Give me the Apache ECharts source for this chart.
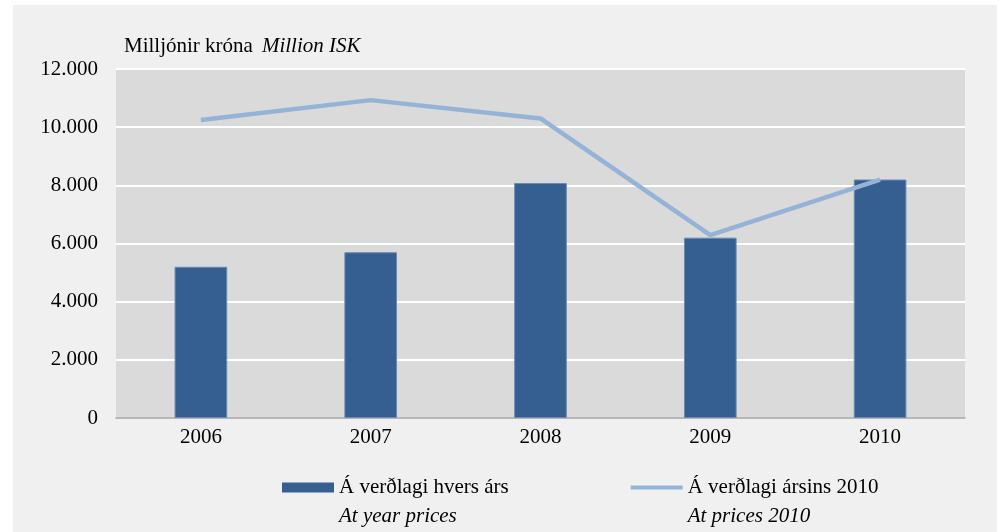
<!DOCTYPE html>
<html>
<head>
<meta charset="utf-8">
<script src="https://cdn.jsdelivr.net/npm/echarts@6/dist/echarts.min.js"></script>
<style>html,body{margin:0;padding:0;background:#fff}#c{width:1002px;height:532px}</style>
</head>
<body>
<div id="c"></div>
<script>
var categories = ['2006', '2007', '2008', '2009', '2010'];
var yearPrices = [5200, 5700, 8080, 6200, 8200];
var prices2010 = [10250, 10930, 10300, 6290, 8200];
var yTicks = ['0', '2.000', '4.000', '6.000', '8.000', '10.000', '12.000'];
var barName = 'Á verðlagi hvers árs';
var barNameEn = 'At year prices';
var lineName = 'Á verðlagi ársins 2010';
var lineNameEn = 'At prices 2010';
var enNames = {};
enNames[barName] = barNameEn;
enNames[lineName] = lineNameEn;

var FONT = '"Liberation Serif", "Times New Roman", serif';
var FS = 21;
var chart = echarts.init(document.getElementById('c'), null, {renderer: 'canvas'});
chart.setOption({
  backgroundColor: '#ffffff',
  animation: false,
  textStyle: {fontFamily: FONT},
  graphic: [{
    type: 'rect', left: 13, top: 5, z: -10, silent: true,
    shape: {width: 984, height: 527},
    style: {fill: '#F0F0F0'}
  }],
  title: {
    text: '{a|Milljónir króna}  {b|Million ISK}',
    left: 119, top: 31,
    textStyle: {
      fontWeight: 'normal',
      rich: {
        a: {fontFamily: FONT, fontSize: FS, fontWeight: 'normal', color: '#000'},
        b: {fontFamily: FONT, fontSize: FS, fontWeight: 'normal', fontStyle: 'italic', color: '#000'}
      }
    }
  },
  grid: {
    left: 116, right: 37, top: 69, bottom: 114,
    show: true, backgroundColor: '#DADADA', borderWidth: 0
  },
  legend: {
    left: 282, top: 477, padding: 0,
    itemWidth: 52, itemHeight: 10, itemGap: 120,
    data: [
      {name: barName, icon: 'rect', itemStyle: {borderWidth: 0}},
      {name: lineName, itemStyle: {opacity: 0}, lineStyle: {width: 4, color: '#95B3D7'}}
    ],
    formatter: function (name) { return '{a|' + name + '}\n{b|' + enNames[name] + '}'; },
    textStyle: {
      padding: [29, 0, 0, 0],
      rich: {
        a: {fontFamily: FONT, fontSize: FS, color: '#000', lineHeight: 29},
        b: {fontFamily: FONT, fontSize: FS, fontStyle: 'italic', color: '#000', lineHeight: 29}
      }
    }
  },
  xAxis: {
    type: 'category',
    data: categories,
    axisLine: {lineStyle: {color: '#A0A0A0', width: 1.5}},
    axisTick: {show: false},
    axisLabel: {fontFamily: FONT, fontSize: FS, color: '#000', margin: 9}
  },
  yAxis: {
    type: 'value',
    min: 0, max: 12000, interval: 2000,
    axisLine: {show: false},
    axisTick: {show: false},
    splitLine: {lineStyle: {color: '#FFFFFF', width: 2}},
    axisLabel: {
      fontFamily: FONT, fontSize: FS, color: '#000', margin: 18,
      formatter: function (v) { return yTicks[Math.round(v / 2000)]; }
    }
  },
  series: [{
    name: barName,
    type: 'bar',
    data: yearPrices,
    barWidth: '31%',
    itemStyle: {color: '#355F91', borderColor: '#6A89B3', borderWidth: 1}
  }, {
    name: lineName,
    type: 'line',
    data: prices2010,
    symbol: 'none',
    lineStyle: {color: '#95B3D7', width: 4.5},
    itemStyle: {color: '#95B3D7'}
  }]
});
</script>
</body>
</html>
